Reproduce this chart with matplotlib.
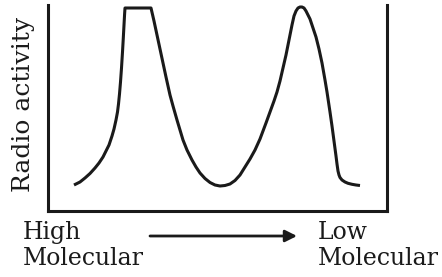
import matplotlib
matplotlib.use("Agg")
import matplotlib.pyplot as plt

# Curve (pixel positions of the drawn trace)
px = [74, 80, 85, 90, 95, 99, 103, 106, 109, 112, 114, 116, 117.5, 118.5, 119.5, 120.5, 121.5,
      122.5, 123.3, 124, 124.6, 125,
      151, 154, 157, 160, 163, 166, 168, 170, 173, 177, 180, 183, 187, 192, 196, 200, 205, 210,
      215, 220,
      225, 230, 235, 240, 245, 250, 255, 260, 263, 266, 270, 274, 277, 280, 283, 286, 288, 290,
      292, 294, 296, 298, 300, 302, 304, 306, 308, 310, 313, 316, 319, 322, 325, 327, 330, 332,
      334, 336, 337, 338, 339, 340, 342, 345, 348, 352, 356, 360]
py = [185, 182, 178, 173.5, 168, 163, 157, 151, 145, 136, 129, 120, 112, 104, 94, 82, 68,
      52, 38, 25, 14, 8,
      8, 21, 35, 49, 63, 77, 86, 95, 106, 120, 130, 140, 150, 160, 167, 173, 178.5, 182.5,
      185, 186,
      185.5, 184, 180.5, 175, 167, 159, 150, 139, 131, 123, 112, 101, 92, 81, 68, 55, 45, 35,
      25, 16, 11, 8, 7, 7, 8, 11, 15, 19, 28, 37, 49, 63, 80, 92, 112, 126,
      141, 156, 164, 171, 175, 177.5, 180, 182, 183.3, 184.3, 185, 185.5]

X0, X1, YB, YT = 48, 387, 211, 5
x = [(p - X0) / (X1 - X0) * 100 for p in px]
y = [(YB - p) / (YB - YT) * 100 for p in py]

fig = plt.figure(figsize=(4.42, 2.77), dpi=100)
ax = fig.add_axes([X0 / 442, 1 - YB / 277, (X1 - X0) / 442, (YB - YT) / 277])
ax.plot(x, y, color="#1a1a1a", lw=2.2, solid_joinstyle="round", solid_capstyle="butt")
ax.set_xlim(0, 100)
ax.set_ylim(0, 100)
ax.set_xticks([])
ax.set_yticks([])
ax.spines["top"].set_visible(False)
for s in ["left", "right", "bottom"]:
    ax.spines[s].set_linewidth(2.2)
    ax.spines[s].set_color("#1a1a1a")

font = dict(family="DejaVu Serif", color="#1a1a1a")
fig.text(24 / 442, 1 - 104 / 277, "Radio activity", rotation=90, ha="center", va="center",
         fontsize=18, **font)
fig.text(23 / 442, 1 - 239 / 277, "High", ha="left", va="baseline", fontsize=17, **font)
fig.text(23 / 442, 1 - 265 / 277, "Molecular", ha="left", va="baseline", fontsize=17, **font)
fig.text(318 / 442, 1 - 239 / 277, "Low", ha="left", va="baseline", fontsize=17, **font)
fig.text(318 / 442, 1 - 265 / 277, "Molecular", ha="left", va="baseline", fontsize=17, **font)

fig.patches.append(matplotlib.patches.FancyArrowPatch(
    (150 / 442, 1 - 236 / 277), (297 / 442, 1 - 236 / 277), transform=fig.transFigure,
    arrowstyle="-|>,head_length=7,head_width=3.5", lw=2.0, color="#1a1a1a",
    shrinkA=0, shrinkB=0))

fig.savefig("out.png", dpi=100)
